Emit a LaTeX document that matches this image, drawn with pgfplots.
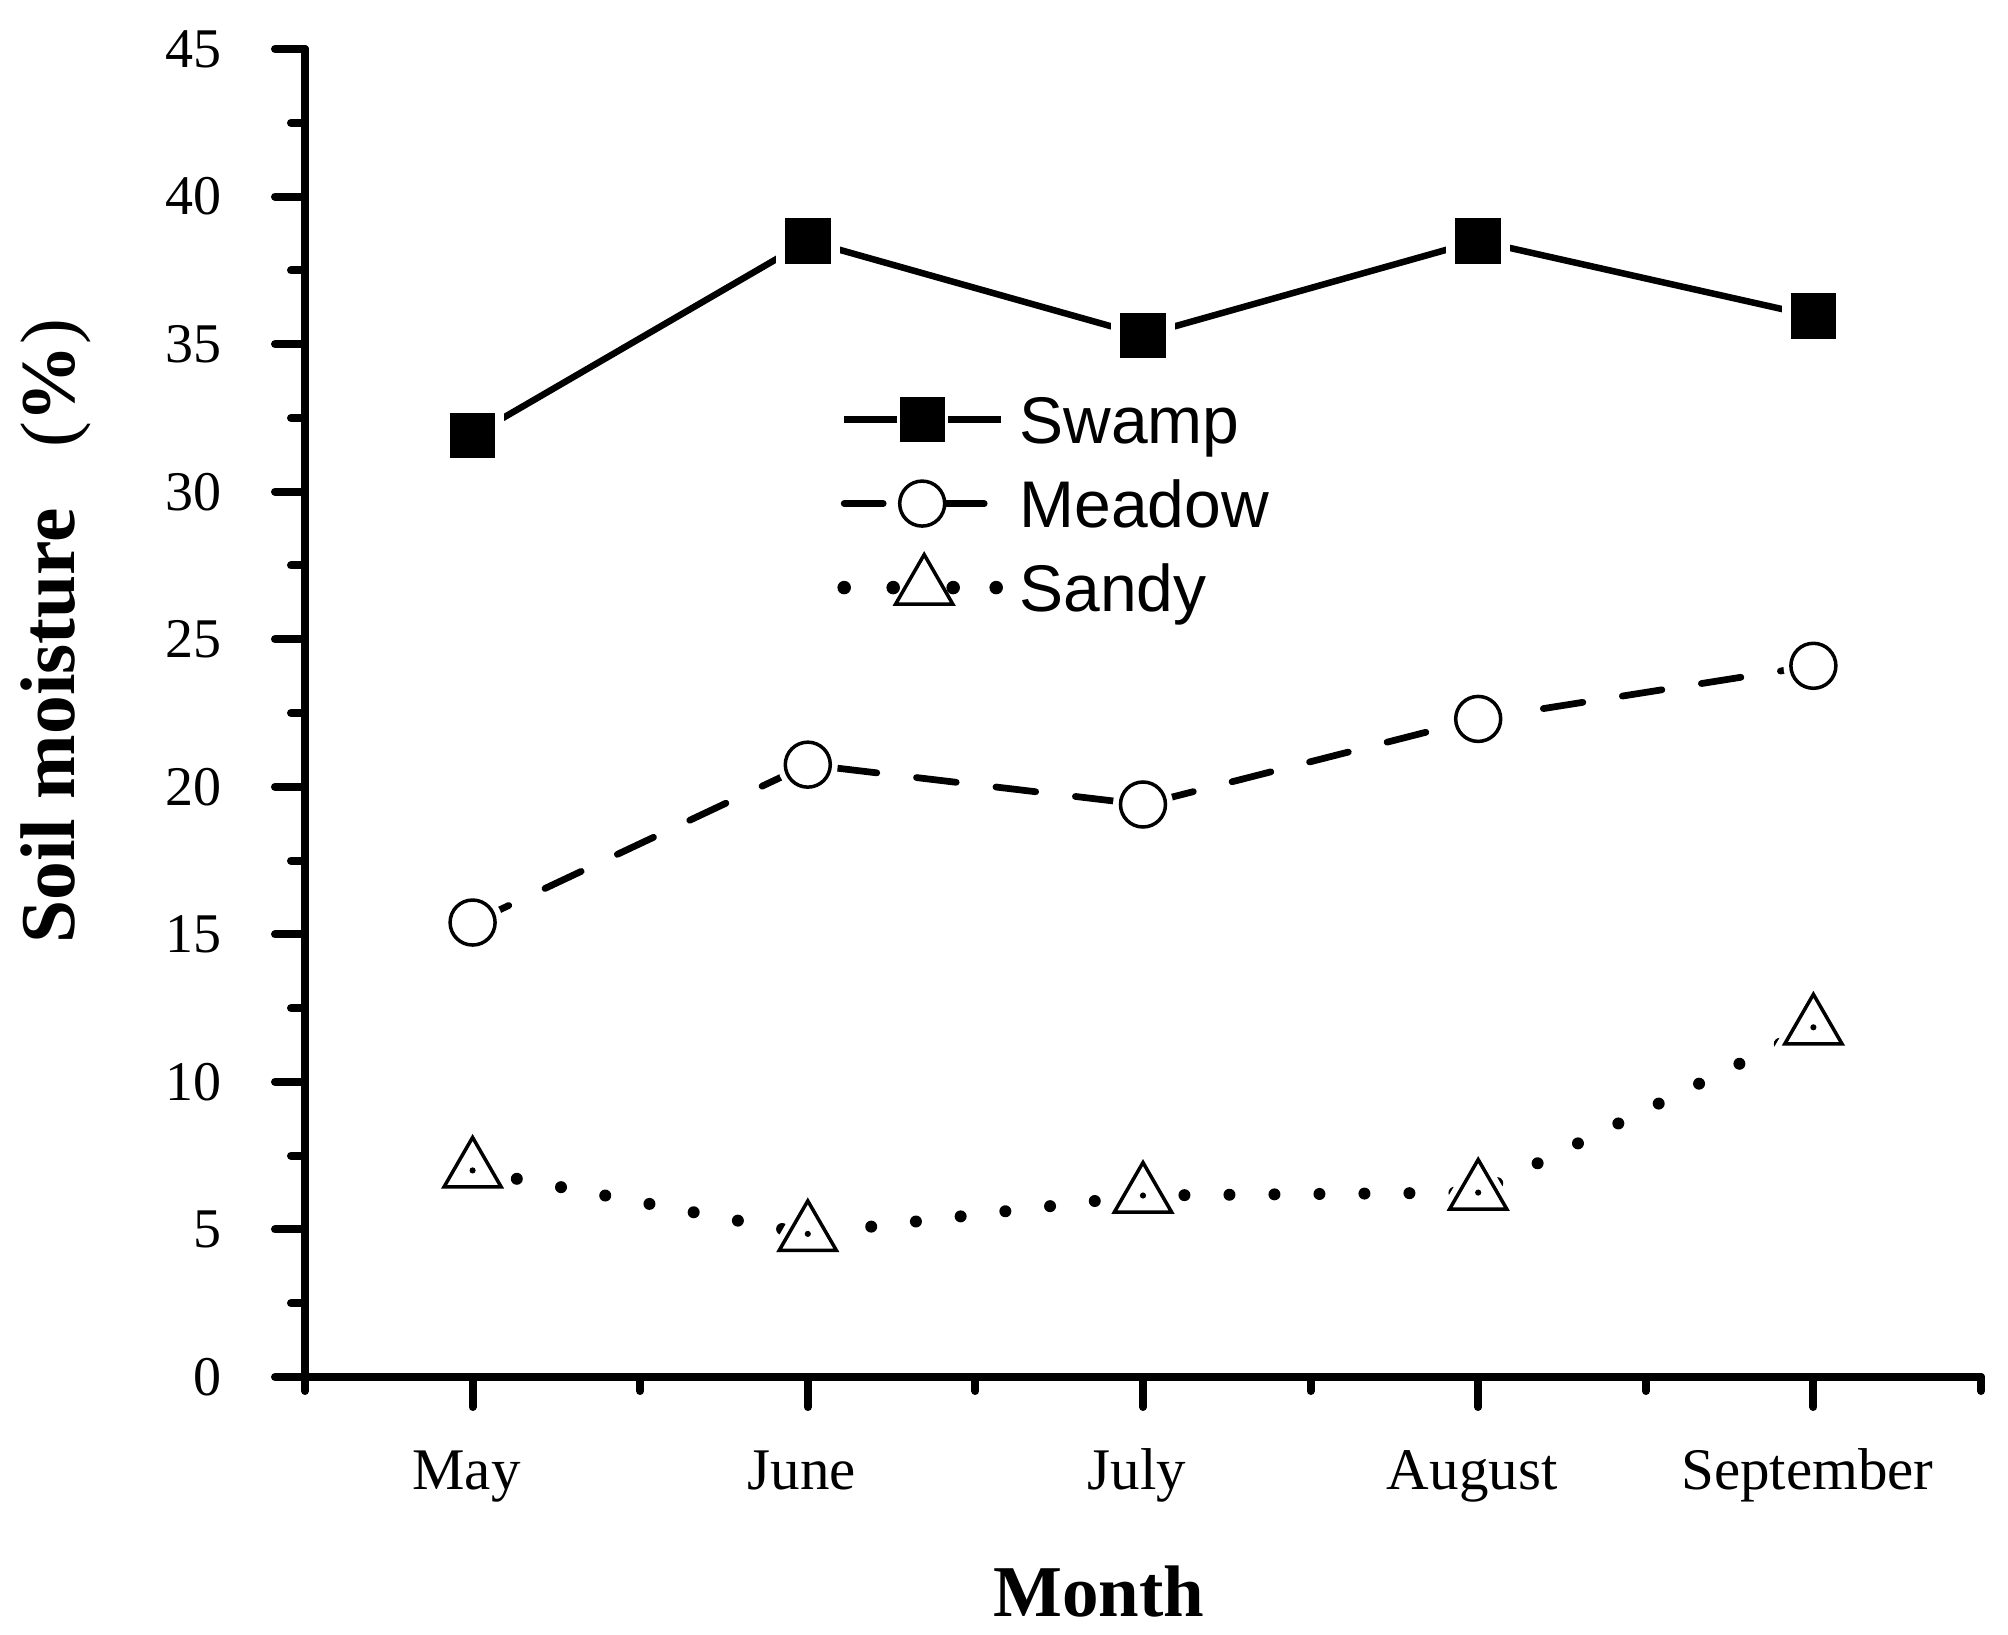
\documentclass[border=0pt]{standalone}
\usepackage{fontspec}
\setmainfont{Liberation Serif}
\newfontfamily\legfont{Liberation Sans}
\usepackage{pgfplots}
\pgfplotsset{compat=1.18}

% legend samples: line pieces left and right of the marker
\pgfplotsset{
  leg swamp/.style={legend image code/.code={
      \draw[##1,mark=none] (0pt,0pt) -- (10.6pt,0pt) (20.8pt,0pt) -- (31.4pt,0pt);
      \draw[##1,only marks,overlay] plot coordinates {(15.7pt,0pt)};}},
  leg meadow/.style={legend image code/.code={
      \draw[##1,mark=none,solid] (0pt,0pt) -- (7.8pt,0pt) (20.4pt,0pt) -- (28pt,0pt);
      \draw[##1,only marks,overlay] plot coordinates {(15.6pt,0pt)};}},
  leg sandy/.style={legend image code/.code={
      \fill (0pt,0pt) circle (1.15pt) (9.8pt,0pt) circle (1.15pt)
            (21.8pt,0pt) circle (1.15pt) (30.4pt,0pt) circle (1.15pt);
      \draw[##1,only marks,overlay] plot coordinates {(16pt,0pt)};}},
}

\pgfplotstableread{
m  swamp meadow sandy
0  31.9  15.4   7.0
1  38.5  20.75  4.85
2  35.3  19.4   6.15
3  38.5  22.3   6.25
4  35.95 24.1   11.85
}\soil

\begin{document}
\begin{tikzpicture}
\path[use as bounding box] (-61pt,-51.4pt) rectangle (340.6pt,275.4pt);
\begin{axis}[
  scale only axis, width=335.2pt, height=265.6pt,
  xmin=-0.5, xmax=4.5, ymin=0, ymax=45,
  axis x line*=bottom, axis y line*=left,
  axis line style={line width=1.6pt, line cap=round},
  xtick={0,1,2,3,4},
  xticklabels={May,June,July,August,September},
  minor xtick={-0.5,0.5,1.5,2.5,3.5,4.5},
  ytick={0,5,...,45},
  minor ytick={2.5,7.5,...,42.5},
  tick align=outside,
  major tick length=6pt, minor tick length=2.8pt,
  tick style={black, line width=1.6pt, line cap=round},
  /pgf/number format/assume math mode=true,
  yticklabel style={font=\fontsize{11.2}{13}\selectfont, anchor=east, inner sep=0pt, xshift=-10.4pt},
  xticklabel style={font=\fontsize{11.8}{14}\selectfont, anchor=base, inner sep=0pt, yshift=-16.4pt, xshift=-1.2pt},
  xlabel={Month},
  xlabel style={font=\fontsize{14.6}{17}\bfseries, at={(axis description cs:0.4737,-0.18)}, anchor=base},
  ylabel={Soil moisture\hspace{12pt}{\mdseries(}\%{\mdseries)}},
  ylabel style={font=\fontsize{15.5}{18}\bfseries, at={(axis description cs:-0.1378,0.5617)}, anchor=base},
  legend style={at={(axis description cs:0.3171,0.7395)}, anchor=north west,
    draw=none, fill=none, inner sep=0pt, row sep=7.35pt, column sep=3pt,
    font=\legfont\fontsize{13.2}{15}\selectfont,
    nodes={inner sep=0pt, text height=9.45pt, text depth=0pt}},
  legend cell align=left,
]
% lines
\addplot[forget plot, black, line width=1.3pt] table[x=m, y=swamp] {\soil};
\addplot[forget plot, black, line width=1.35pt, line cap=round, dash pattern=on 8pt off 8pt] table[x=m, y=meadow] {\soil};
\addplot[forget plot, black, line width=2.4pt, line cap=round, dash pattern=on 0pt off 9pt] table[x=m, y=sandy] {\soil};
% white halos round the markers
\addplot[forget plot, only marks, mark=square*, mark size=4.35pt,
  mark options={draw=white, fill=white, line width=4pt}] table[x=m, y=swamp] {\soil};
\addplot[forget plot, only marks, mark=*, mark size=4.5pt,
  mark options={draw=white, fill=white, line width=3pt}] table[x=m, y=meadow] {\soil};
\addplot[forget plot, only marks, mark=triangle*, mark size=6.6pt,
  mark options={draw=white, fill=white, line width=3pt}] table[x=m, y=sandy] {\soil};
% markers
\addplot[forget plot, only marks, mark=square*, mark size=4.35pt,
  mark options={black, line width=0.4pt}] table[x=m, y=swamp] {\soil};
\addplot[forget plot, only marks, mark=*, mark size=4.5pt,
  mark options={draw=black, fill=white, line width=0.7pt}] table[x=m, y=meadow] {\soil};
\addplot[forget plot, only marks, mark=triangle*, mark size=6.6pt,
  mark options={draw=black, fill=white, line width=0.7pt}] table[x=m, y=sandy] {\soil};
\addplot[forget plot, only marks, mark=*, mark size=0.4pt, black] table[x=m, y=sandy] {\soil};
% legend
\addlegendimage{leg swamp, black, line width=1.3pt, mark=square*, mark size=4.35pt,
  mark options={black, line width=0.4pt}}
\addlegendentry{Swamp}
\addlegendimage{leg meadow, black, line width=1.35pt, line cap=round, mark=*, mark size=4.5pt,
  mark options={draw=black, fill=white, line width=0.7pt}}
\addlegendentry{Meadow}
\addlegendimage{leg sandy, black, mark=triangle*, mark size=6.6pt,
  mark options={draw=black, fill=white, line width=0.7pt}}
\addlegendentry{Sandy}
\end{axis}
\end{tikzpicture}
\end{document}
